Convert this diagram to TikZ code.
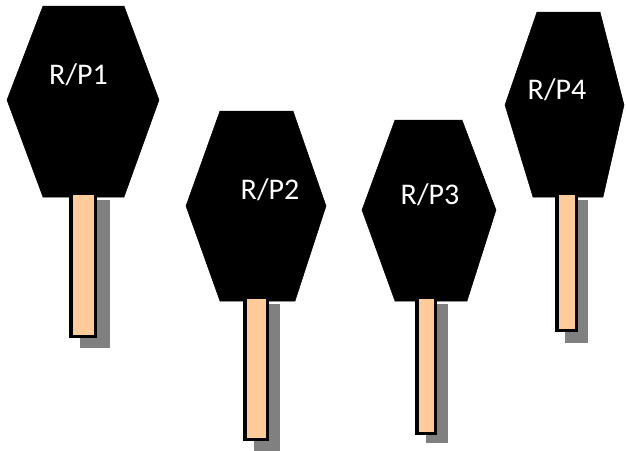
\documentclass[tikz,border=0pt]{standalone}
\usepackage{fontspec}
\setmainfont{Carlito}
\definecolor{stickfill}{RGB}{255,204,153}
\definecolor{shadowgray}{RGB}{128,128,128}
\tikzset{
  hexbody/.style={fill=black, draw=black, line width=0.5pt},
  stickbox/.style={fill=stickfill, draw=black, line width=3.5pt},
  stickshadow/.style={fill=shadowgray, draw=none},
  label/.style={text=white, font=\fontsize{30}{34}\selectfont, inner sep=0pt, anchor=center}
}
\begin{document}
\begin{tikzpicture}[x=1pt,y=-1pt]
\useasboundingbox (0,0) rectangle (626,450);
% shadows
\fill[stickshadow] (80,200) rectangle (110,348);
\fill[stickshadow] (254,304) rectangle (280,451);
\fill[stickshadow] (426,304) rectangle (448,443);
\fill[stickshadow] (565,200) rectangle (588,343);
% hexagons
\filldraw[hexbody] (43,6) -- (124,6) -- (159,100) -- (124,197) -- (43,197) -- (7,100) -- cycle;
\filldraw[hexbody] (220,111) -- (293,111) -- (326,206) -- (295,301) -- (220,301) -- (186,206) -- cycle;
\filldraw[hexbody] (395,120) -- (462,120) -- (496,210) -- (467,301) -- (395,301) -- (362,210) -- cycle;
\filldraw[hexbody] (537,12) -- (600,12) -- (624,105) -- (603,197) -- (533,197) -- (505,105) -- cycle;
% sticks
\filldraw[stickbox] (70.75,192.75) rectangle (95.25,336.25);
\filldraw[stickbox] (244.75,296.75) rectangle (267.25,439.25);
\filldraw[stickbox] (416.75,296.75) rectangle (435.25,433.25);
\filldraw[stickbox] (556.75,192.75) rectangle (576.25,330.25);
% labels
\node[label] (p1) at (78.5,75) {R/P1};
\node[label] (p2) at (270,190) {R/P2};
\node[label] (p3) at (430,195) {R/P3};
\node[label] (p4) at (557,90) {R/P4};
\end{tikzpicture}
\end{document}
